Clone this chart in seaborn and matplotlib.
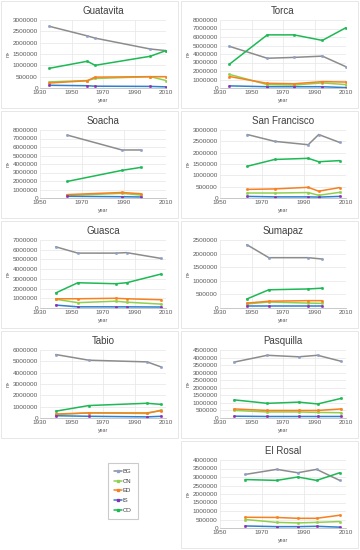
import pandas as pd
import seaborn as sns
import matplotlib.pyplot as plt
from matplotlib.lines import Line2D
from matplotlib.patches import Rectangle
from matplotlib.ticker import FuncFormatter

# land cover classes (Excel series order)
classes = ["BG", "CN", "ED", "IS", "CO"]
line_colors = {"BG": "#8c8c8c", "CN": "#8fd14f", "ED": "#f8801f", "IS": "#2f7fcf", "CO": "#1db954"}
marker_colors = {"BG": "#8ea0c8", "CN": "#8fd14f", "ED": "#f8801f", "IS": "#8e2bb8", "CO": "#1db954"}

# one small set of arrays per site
guatavita_years = [1936, 1960, 1965, 2000, 2010]
guatavita = {
    "BG": [2720000, 2300000, 2200000, 1720000, 1650000],
    "CN": [270000, 330000, 420000, 500000, 330000],
    "ED": [220000, 320000, 480000, 500000, 500000],
    "IS": [120000, 100000, 80000, 70000, 50000],
    "CO": [870000, 1180000, 1000000, 1400000, 1650000],
}

torca_years = [1936, 1960, 1977, 1995, 2010]
torca = {
    "BG": [4900000, 3500000, 3600000, 3750000, 2500000],
    "CN": [1600000, 400000, 350000, 600000, 400000],
    "ED": [1350000, 550000, 500000, 750000, 700000],
    "IS": [250000, 150000, 150000, 150000, 50000],
    "CO": [2800000, 6250000, 6250000, 5600000, 7100000],
}

soacha_years = [1963, 1989, 1998]
soacha = {
    "BG": [7400000, 5650000, 5650000],
    "CN": [300000, 550000, 350000],
    "ED": [400000, 650000, 500000],
    "IS": [200000, 150000, 120000],
    "CO": [1950000, 3250000, 3600000],
}

sanfrancisco_years = [1963, 1976, 1992, 1997, 2007]
sanfrancisco = {
    "BG": [2800000, 2500000, 2350000, 2800000, 2450000],
    "CN": [220000, 220000, 240000, 120000, 250000],
    "ED": [380000, 400000, 470000, 300000, 460000],
    "IS": [70000, 50000, 50000, 40000, 70000],
    "CO": [1400000, 1700000, 1750000, 1600000, 1650000],
}

guasca_years = [1940, 1954, 1978, 1985, 2007]
guasca = {
    "BG": [6300000, 5650000, 5650000, 5700000, 5100000],
    "CN": [900000, 550000, 700000, 600000, 400000],
    "ED": [950000, 950000, 1000000, 950000, 850000],
    "IS": [300000, 120000, 120000, 120000, 100000],
    "CO": [1550000, 2600000, 2500000, 2600000, 3500000],
}

sumapaz_years = [1947, 1961, 1986, 1995]
sumapaz = {
    "BG": [2330000, 1850000, 1850000, 1800000],
    "CN": [150000, 220000, 180000, 170000],
    "ED": [180000, 250000, 270000, 270000],
    "IS": [60000, 60000, 60000, 60000],
    "CO": [330000, 670000, 700000, 730000],
}

tabio_years = [1940, 1961, 1998, 2007]
tabio = {
    "BG": [5600000, 5100000, 4950000, 4500000],
    "CN": [300000, 450000, 400000, 700000],
    "ED": [350000, 450000, 450000, 650000],
    "IS": [200000, 150000, 100000, 150000],
    "CO": [600000, 1100000, 1300000, 1200000],
}

pasquilla_years = [1939, 1960, 1980, 1992, 2007]
pasquilla = {
    "BG": [3700000, 4150000, 4050000, 4150000, 3750000],
    "CN": [500000, 400000, 400000, 370000, 350000],
    "ED": [600000, 500000, 500000, 500000, 600000],
    "IS": [120000, 100000, 100000, 100000, 100000],
    "CO": [1200000, 970000, 1050000, 930000, 1300000],
}

elrosal_years = [1962, 1977, 1987, 1996, 2007]
elrosal = {
    "BG": [3150000, 3450000, 3250000, 3450000, 2800000],
    "CN": [500000, 330000, 300000, 330000, 380000],
    "ED": [630000, 620000, 570000, 570000, 750000],
    "IS": [120000, 80000, 80000, 100000, 50000],
    "CO": [2850000, 2800000, 3000000, 2800000, 3250000],
}

# (title, years, values, y max, y step, x start)
panels = [
    ("Guatavita", guatavita_years, guatavita, 3000000, 500000, 1930),
    ("Torca", torca_years, torca, 8000000, 1000000, 1930),
    ("Soacha", soacha_years, soacha, 8000000, 1000000, 1950),
    ("San Francisco", sanfrancisco_years, sanfrancisco, 3000000, 500000, 1950),
    ("Guasca", guasca_years, guasca, 7000000, 1000000, 1930),
    ("Sumapaz", sumapaz_years, sumapaz, 2500000, 500000, 1930),
    ("Tabio", tabio_years, tabio, 6000000, 1000000, 1930),
    ("Pasquilla", pasquilla_years, pasquilla, 4500000, 500000, 1930),
    ("El Rosal", elrosal_years, elrosal, 4000000, 500000, 1950),
]
# grid slot of each panel (row, col); slot (4, 0) holds the legend
slots = [(0, 0), (0, 1), (1, 0), (1, 1), (2, 0), (2, 1), (3, 0), (3, 1), (4, 1)]

sns.set_style("white")
plt.rcParams["font.family"] = ["Liberation Sans", "DejaVu Sans"]

W, H = 360, 550
fig = plt.figure(figsize=(W / 100, H / 100), dpi=100)

for (title, years, vals, ymax, ystep, xstart), (r, c) in zip(panels, slots):
    x0 = 180 * c
    y0 = 110 * r
    # chart area border
    fig.add_artist(Rectangle(((x0 + 1) / W, 1 - (y0 + 108) / H), 177 / W, 107 / H,
                             transform=fig.transFigure, fill=False, edgecolor="#e3e3e3", lw=0.6))
    ax = fig.add_axes([(x0 + 40) / W, 1 - (y0 + 88) / H, 126 / W, 68 / H])

    rows = []
    for k in classes:
        for yr, v in zip(years, vals[k]):
            rows.append({"year": yr, "area": v, "cls": k})
    df = pd.DataFrame(rows)

    for k in classes:
        sub = df[df["cls"] == k]
        sns.lineplot(data=sub, x="year", y="area", ax=ax, color=line_colors[k], lw=1.1,
                     marker="s", markersize=1.1, markerfacecolor=marker_colors[k],
                     markeredgecolor=marker_colors[k], legend=False)

    ax.set_xlim(xstart, 2010)
    ax.set_xticks(list(range(xstart, 2011, 20)))
    ax.set_ylim(0, ymax)
    ax.set_yticks(list(range(0, ymax + 1, ystep)))
    ax.yaxis.set_major_formatter(FuncFormatter(lambda v, p: f"{int(v)}"))
    ax.grid(True, color="#e6e6e6", lw=0.5)
    ax.set_axisbelow(True)
    for s in ["left", "top", "right"]:
        ax.spines[s].set_visible(False)
    ax.spines["bottom"].set_color("#bfbfbf")
    ax.spines["bottom"].set_linewidth(0.6)
    ax.tick_params(axis="both", labelsize=4.6, length=0, pad=1.5, colors="#595959")
    ax.set_title(title, fontsize=7, color="#404040", pad=4)
    ax.set_xlabel("year", fontsize=3.8, color="#595959", labelpad=2)
    ax.set_ylabel("m²", fontsize=3.8, color="#595959", labelpad=1.5)

handles = [Line2D([0], [0], color=line_colors[k], lw=1.1, marker="s", markersize=1.6,
                  markerfacecolor=marker_colors[k], markeredgecolor=marker_colors[k])
           for k in classes]
leg = fig.legend(handles, classes, loc="upper left", bbox_to_anchor=(108 / W, 1 - 463 / H),
                 fontsize=4.3, frameon=True, fancybox=False, handlelength=1.4, handletextpad=0.1,
                 labelspacing=0.75, borderpad=1.0, borderaxespad=0, labelcolor="#404040")
leg.get_frame().set_edgecolor("#bfbfbf")
leg.get_frame().set_linewidth(0.8)

fig.savefig("out.png", dpi=100)
